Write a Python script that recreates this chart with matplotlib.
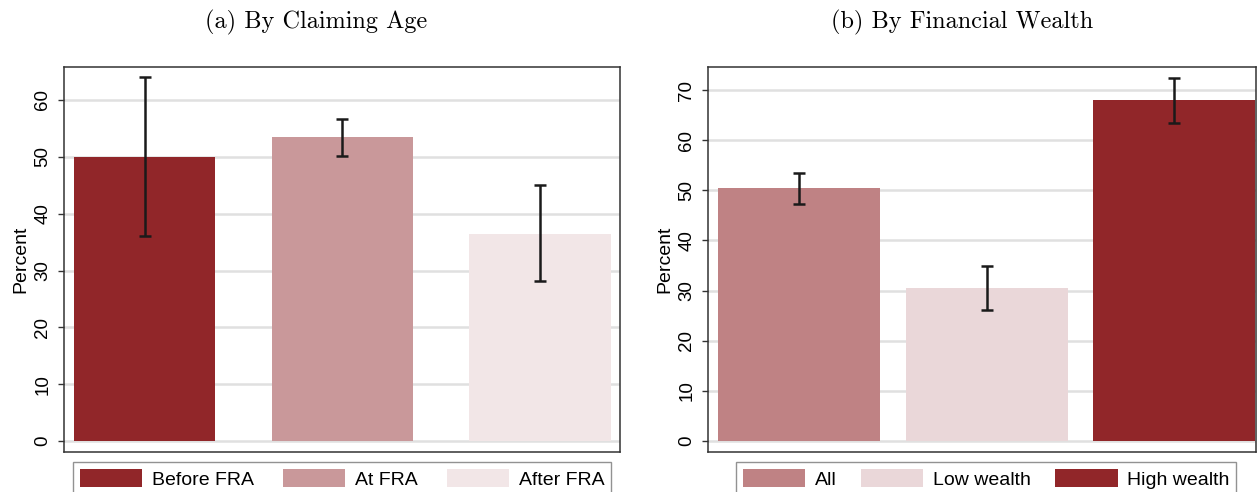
import matplotlib
matplotlib.use('Agg')
import matplotlib.pyplot as plt
from matplotlib.patches import Patch

# (a) By Claiming Age
age_labels = ['Before FRA', 'At FRA', 'After FRA']
age_values = [50.0, 53.5, 36.5]
age_low = [36.0, 50.2, 28.1]
age_high = [64.0, 56.7, 45.0]
age_colors = ['#912629', '#c9989a', '#f2e6e7']

# (b) By Financial Wealth
wealth_labels = ['All', 'Low wealth', 'High wealth']
wealth_values = [50.5, 30.5, 68.0]
wealth_low = [47.3, 26.1, 63.5]
wealth_high = [53.4, 35.0, 72.5]
wealth_colors = ['#bf8284', '#ead7d9', '#912629']

plt.rcParams['font.family'] = ['Liberation Sans', 'DejaVu Sans']

fig = plt.figure(figsize=(12.57, 4.92), dpi=100)
ax1 = fig.add_axes([64 / 1257, 1 - 452 / 492, 556 / 1257, 385 / 492])
ax2 = fig.add_axes([708 / 1257, 1 - 452 / 492, 548 / 1257, 385 / 492])


def draw_panel(ax, labels, values, low, high, colors, width, xlim, ylim, yticks, leg_x, colspace):
    x = list(range(len(values)))
    ax.set_axisbelow(True)
    ax.bar(x, values, width=width, color=colors, zorder=2)
    yerr = [[v - l for v, l in zip(values, low)], [h - v for v, h in zip(values, high)]]
    ax.errorbar(x, values, yerr=yerr, fmt='none', ecolor='#1a1a1a', elinewidth=1.8,
                capsize=4.5, capthick=1.8, zorder=3)
    ax.set_xlim(*xlim)
    ax.set_ylim(*ylim)
    ax.set_xticks([])
    ax.set_yticks(yticks)
    ax.set_yticklabels([str(t) for t in yticks], rotation=90, va='center', fontsize=13.5)
    ax.yaxis.grid(True, color='#e0e0e0', linewidth=1.8)
    ax.tick_params(axis='y', length=4, width=1, color='#333333', pad=5)
    for s in ax.spines.values():
        s.set_color('#333333')
        s.set_linewidth(1.1)
    ax.set_ylabel('Percent', fontsize=14, labelpad=4)
    handles = [Patch(facecolor=c, label=l) for c, l in zip(colors, labels)]
    leg = ax.legend(handles=handles, loc='upper center', bbox_to_anchor=(leg_x, -0.027),
                    ncol=3, fontsize=14, frameon=True, fancybox=False,
                    handlelength=3.2, handleheight=1.0, handletextpad=0.5,
                    columnspacing=colspace, borderpad=0.35, borderaxespad=0)
    leg.get_frame().set_edgecolor('#777777')
    leg.get_frame().set_linewidth(1.0)


draw_panel(ax1, age_labels, age_values, age_low, age_high, age_colors,
           0.714, (-0.41, 2.405), (-1.9, 65.8), [0, 10, 20, 30, 40, 50, 60], 0.5, 1.5)
draw_panel(ax2, wealth_labels, wealth_values, wealth_low, wealth_high, wealth_colors,
           0.862, (-0.484, 2.435), (-2.2, 74.6), [0, 10, 20, 30, 40, 50, 60, 70], 0.508, 1.25)

fig.text(316 / 1257, 1 - 22 / 492, '(a) By Claiming Age', family='cmr10',
         fontsize=17.5, ha='center', va='center')
fig.text(962 / 1257, 1 - 22 / 492, '(b) By Financial Wealth', family='cmr10',
         fontsize=17.5, ha='center', va='center')

fig.savefig('out.png', dpi=100)
